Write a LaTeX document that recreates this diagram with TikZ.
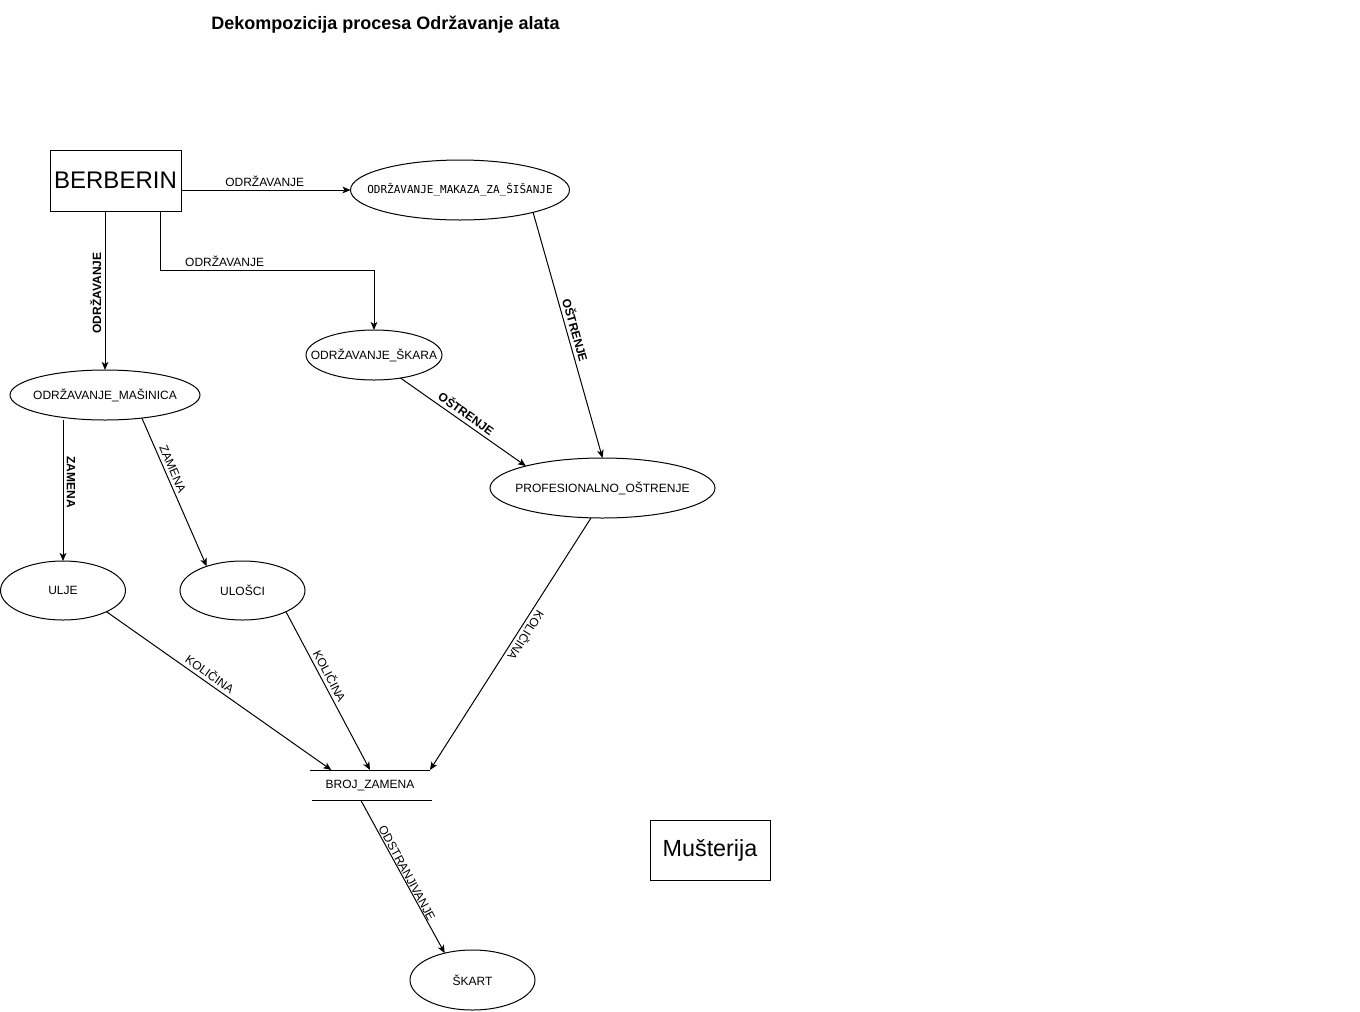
\documentclass[tikz,border=0pt]{standalone}
\usepackage{fontspec}
\setmainfont{Liberation Sans}
\newfontfamily\monof{DejaVu Sans Mono}
\usetikzlibrary{arrows.meta,shapes.geometric,calc}
\newcommand{\ztext}[1]{\makebox[0pt]{#1}}
\begin{document}
\begin{tikzpicture}[x=0.75pt,y=-0.75pt, line width=0.75pt,
  proc/.style={draw, ellipse, inner sep=0pt, outer sep=0pt, font=\fontsize{9}{11}\selectfont},
  ent/.style={draw, rectangle, inner sep=0pt, outer sep=0pt},
  arr/.style={-{Stealth[length=6pt,width=5pt,inset=1.5pt]}},
  lab/.style={font=\fontsize{9}{11}\selectfont, inner sep=2.5pt, anchor=south},
  blab/.style={lab, font=\fontsize{9}{11}\selectfont\bfseries},
]
\useasboundingbox (0,0) rectangle (1360,1011);
\fill[white] (0,0) rectangle (1360,1011);

\node[font=\fontsize{13.5}{16}\selectfont\bfseries] (title) at (385.5,25) {Dekompozicija procesa Održavanje alata};

\node[ent, minimum width=98.25pt, minimum height=45.75pt, font=\fontsize{18}{22}\selectfont] (berb) at (115.5,180.5) {BERBERIN};
\node[ent, minimum width=90pt, minimum height=45pt, font=\fontsize{17.5}{20}\selectfont] (must) at (710,850) {Mušterija};

\node[proc, minimum width=164.25pt, minimum height=45pt, font=\monof\fontsize{8.25}{10}\selectfont] (makaza) at (460,190) {\ztext{ODRŽAVANJE\_MAKAZA\_ZA\_ŠIŠANJE}};
\node[proc, minimum width=102pt, minimum height=37.5pt] (skara) at (374,355) {\ztext{ODRŽAVANJE\_ŠKARA}};
\node[proc, minimum width=142.5pt, minimum height=37.5pt] (masinica) at (105,395) {\ztext{ODRŽAVANJE\_MAŠINICA}};
\node[proc, minimum width=168.75pt, minimum height=45pt] (prof) at (602.5,488) {\ztext{PROFESIONALNO\_OŠTRENJE}};
\node[proc, minimum width=93.75pt, minimum height=44.25pt] (ulje) at (63,590.5) {\ztext{ULJE}};
\node[proc, minimum width=93.75pt, minimum height=44.25pt] (ulosci) at (242.5,590.5) {\ztext{ULOŠCI}};
\node[minimum width=90pt, minimum height=22.5pt, inner sep=0pt, outer sep=0pt, font=\fontsize{9}{11}\selectfont] (broj) at (370,785) {\ztext{BROJ\_ZAMENA}};
\node[proc, minimum width=93.75pt, minimum height=45pt] (skart) at (472.5,980) {\ztext{ŠKART}};

\draw (broj.north west) -- (broj.north east);
\draw ([xshift=1.5pt]broj.south west) -- ([xshift=1.5pt]broj.south east);

\draw[arr] (makaza.west -| berb.east) -- node[lab,pos=0.494]{ODRŽAVANJE} (makaza.west);
\draw[arr] (masinica.north |- berb.south) -- node[blab,pos=0.516,rotate=90]{ODRŽAVANJE} (masinica.north);
\draw[arr] ([xshift=33.4pt]berb.south) -- ++(0,59) -| node[lab,pos=0.151]{ODRŽAVANJE} (skara.north);
\draw[arr] (makaza.-17) -- node[blab,pos=0.489,rotate=-74.1]{OŠTRENJE} (prof.north);
\draw[arr] (skara.-41) -- node[blab,pos=0.484,rotate=-35.6]{OŠTRENJE} (prof.164);
\draw[arr] (ulje.north |- masinica.south) -- node[blab,pos=0.44,rotate=-90]{ZAMENA} (ulje.north);
\draw[arr] (masinica.-32) -- node[lab,pos=0.363,rotate=-66.9]{ZAMENA} (ulosci.146);
\draw[arr] (ulje.-26) -- node[lab,pos=0.438,rotate=-35.3]{KOLIČINA} ([xshift=-29pt]broj.north);
\draw[arr] (ulosci.-26) -- node[lab,pos=0.43,rotate=-62.6]{KOLIČINA} (broj.north);
\draw[arr] (prof.-111) -- node[lab,pos=0.448,rotate=-122.6]{KOLIČINA} (broj.north east);
\draw[arr] ([xshift=-7pt]broj.south) -- node[lab,inner sep=0.5pt,pos=0.495,rotate=-61.6]{ODSTRANJIVANJE} (skart.136);
\end{tikzpicture}
\end{document}
